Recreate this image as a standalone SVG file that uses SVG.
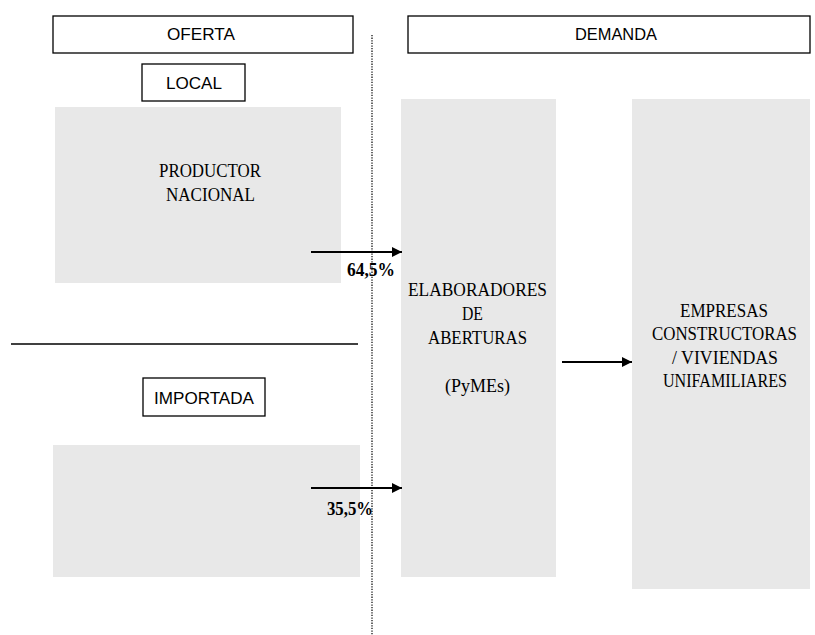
<svg xmlns="http://www.w3.org/2000/svg" width="815" height="635" viewBox="0 0 815 635">
<style>
.hdr{fill:#fff;stroke:#000;stroke-width:1.3}
.gray{fill:#e8e8e8}
.sans{font-family:"Liberation Sans",Arial,sans-serif;font-size:17px;fill:#000;text-anchor:middle}
.serif{font-family:"Liberation Serif","Times New Roman",serif;font-size:18px;fill:#000;text-anchor:middle}
.pct{font-family:"Liberation Serif","Times New Roman",serif;font-size:18px;font-weight:bold;fill:#000}
.arr{stroke:#000;stroke-width:2;fill:none;marker-end:url(#ah)}
</style>
<defs>
<marker id="ah" viewBox="0 0 10 10" refX="10" refY="5" markerWidth="10" markerHeight="10" markerUnits="userSpaceOnUse" orient="auto">
<path d="M0,0 L10,5 L0,10 z" fill="#000"/>
</marker>
</defs>
<rect width="815" height="635" fill="#fff"/>
<g id="oferta">
<rect class="hdr" x="53" y="16" width="300" height="37"/>
<text class="sans" x="201" y="40" textLength="68" lengthAdjust="spacingAndGlyphs">OFERTA</text>
</g>
<g id="demanda">
<rect class="hdr" x="408" y="16" width="402" height="37"/>
<text class="sans" x="616" y="40" textLength="82" lengthAdjust="spacingAndGlyphs">DEMANDA</text>
</g>
<g id="local">
<rect class="hdr" x="142" y="64" width="103" height="37"/>
<text class="sans" x="194" y="89" textLength="56" lengthAdjust="spacingAndGlyphs">LOCAL</text>
</g>
<g id="productor">
<rect class="gray" x="55" y="107" width="286" height="176"/>
<text class="serif" x="210" y="177" textLength="102" lengthAdjust="spacingAndGlyphs">PRODUCTOR</text>
<text class="serif" x="210.5" y="201" textLength="89" lengthAdjust="spacingAndGlyphs">NACIONAL</text>
</g>
<g id="separador">
<line x1="11" y1="344" x2="358" y2="344" stroke="#000" stroke-width="1.3"/>
</g>
<g id="importada-label">
<rect class="hdr" x="143" y="378" width="122" height="38"/>
<text class="sans" x="204" y="404" textLength="100" lengthAdjust="spacingAndGlyphs">IMPORTADA</text>
</g>
<g id="importada">
<rect class="gray" x="53" y="445" width="307" height="132"/>
</g>
<g id="elaboradores">
<rect class="gray" x="401" y="99" width="155" height="478"/>
<text class="serif" x="477.5" y="296" textLength="139" lengthAdjust="spacingAndGlyphs">ELABORADORES</text>
<text class="serif" x="472.5" y="320" textLength="21" lengthAdjust="spacingAndGlyphs">DE</text>
<text class="serif" x="477.5" y="344" textLength="99" lengthAdjust="spacingAndGlyphs">ABERTURAS</text>
<text class="serif" x="477.5" y="392" textLength="65" lengthAdjust="spacingAndGlyphs">(PyMEs)</text>
</g>
<g id="empresas">
<rect class="gray" x="632" y="99" width="178" height="490"/>
<text class="serif" x="724" y="317" textLength="88" lengthAdjust="spacingAndGlyphs">EMPRESAS</text>
<text class="serif" x="724.5" y="340" textLength="145" lengthAdjust="spacingAndGlyphs">CONSTRUCTORAS</text>
<text class="serif" x="725" y="364" textLength="106" lengthAdjust="spacingAndGlyphs">/ VIVIENDAS</text>
<text class="serif" x="725" y="387" textLength="124" lengthAdjust="spacingAndGlyphs">UNIFAMILIARES</text>
</g>
<g id="connectors">
<line x1="372" y1="35" x2="372" y2="635" stroke="#000" stroke-width="1.2" stroke-dasharray="1.3,1.3"/>
<line class="arr" x1="311" y1="252" x2="402" y2="252"/>
<line class="arr" x1="311" y1="488" x2="402" y2="488"/>
<line class="arr" x1="562" y1="362" x2="632" y2="362"/>
<text class="pct" x="347" y="276" textLength="48" lengthAdjust="spacingAndGlyphs">64,5%</text>
<text class="pct" x="327" y="515" textLength="46" lengthAdjust="spacingAndGlyphs">35,5%</text>
</g>
</svg>
